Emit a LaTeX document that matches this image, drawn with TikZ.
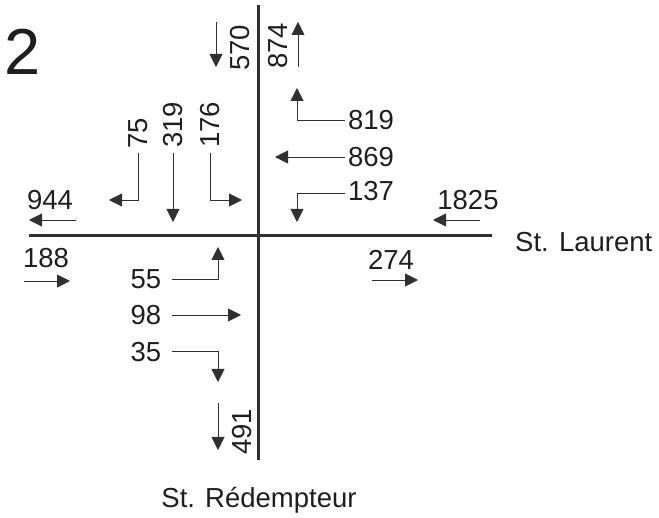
\documentclass[tikz,border=0pt]{standalone}
\usepackage{fontspec}
\setmainfont{Liberation Sans}
\usetikzlibrary{arrows.meta}
\definecolor{ink}{HTML}{1E1E1E}
\definecolor{road}{HTML}{303030}
\begin{document}
\begin{tikzpicture}[x=1pt,y=-1pt,
  lbl/.style={inner sep=0pt,text=ink,font=\fontsize{27.5}{31}\selectfont},
  vlbl/.style={lbl,rotate=90},
  roadline/.style={draw=road,line width=3pt},
  arr/.style={draw=road,line width=0.9pt,-{Triangle[length=13pt,width=13pt]}}]
\useasboundingbox (0,0) rectangle (659,518);
% roads
\coordinate (vt) at (258,5);
\coordinate (vb) at (258,460);
\coordinate (hl) at (29,236);
\coordinate (hr) at (492,236);
\draw[roadline] (vt) -- (vb);
\draw[roadline] (hl) -- (hr);
% titles
\node[lbl,font=\fontsize{65}{70}\selectfont] (two) at (23,52) {2};
\node[lbl,anchor=west] (laurent) at (515,242) {St. Laurent};
\node[lbl] (redempteur) at (259,500) {St. Rédempteur};
% north approach
\node[vlbl] (t570) at (240,48) {570};
\node[vlbl] (t874) at (278,46) {874};
\coordinate (a570s) at (216,22); \coordinate (a570e) at (216,67);
\draw[arr] (a570s) -- (a570e);
\coordinate (a874s) at (298,67); \coordinate (a874e) at (298,22);
\draw[arr] (a874s) -- (a874e);
\node[vlbl] (t75) at (138,133) {75};
\node[vlbl] (t319) at (173,125) {319};
\node[vlbl] (t176) at (210,125) {176};
\coordinate (a75s) at (138,153); \coordinate (a75e) at (109,200);
\draw[arr] (a75s) |- (a75e);
\coordinate (a319s) at (173,153); \coordinate (a319e) at (173,222);
\draw[arr] (a319s) -- (a319e);
\coordinate (a176s) at (210,153); \coordinate (a176e) at (242,200);
\draw[arr] (a176s) |- (a176e);
% east approach
\node[lbl] (t819) at (371,120) {819};
\node[lbl] (t869) at (371,157) {869};
\node[lbl] (t137) at (371,191) {137};
\coordinate (a819s) at (345,120); \coordinate (a819e) at (297,88);
\draw[arr] (a819s) -| (a819e);
\coordinate (a869s) at (345,157); \coordinate (a869e) at (275,157);
\draw[arr] (a869s) -- (a869e);
\coordinate (a137s) at (345,193); \coordinate (a137e) at (297,222);
\draw[arr] (a137s) -| (a137e);
\node[lbl] (t1825) at (468,200) {1825};
\coordinate (a1825s) at (480,220); \coordinate (a1825e) at (433,220);
\draw[arr] (a1825s) -- (a1825e);
% west side
\node[lbl] (t944) at (50,200) {944};
\coordinate (a944s) at (76,220); \coordinate (a944e) at (29,220);
\draw[arr] (a944s) -- (a944e);
\node[lbl] (t188) at (46,258) {188};
\coordinate (a188s) at (24,281); \coordinate (a188e) at (70,281);
\draw[arr] (a188s) -- (a188e);
% south approach
\node[lbl] (t55) at (146,279) {55};
\node[lbl] (t98) at (146,315) {98};
\node[lbl] (t35) at (146,352) {35};
\coordinate (a55s) at (172,279); \coordinate (a55e) at (218,247);
\draw[arr] (a55s) -| (a55e);
\coordinate (a98s) at (172,315); \coordinate (a98e) at (241,315);
\draw[arr] (a98s) -- (a98e);
\coordinate (a35s) at (172,351); \coordinate (a35e) at (218,382);
\draw[arr] (a35s) -| (a35e);
\node[vlbl] (t491) at (242,432) {491};
\coordinate (a491s) at (218,403); \coordinate (a491e) at (218,450);
\draw[arr] (a491s) -- (a491e);
% east exit
\node[lbl] (t274) at (391,260) {274};
\coordinate (a274s) at (372,280); \coordinate (a274e) at (418,280);
\draw[arr] (a274s) -- (a274e);
\end{tikzpicture}
\end{document}
